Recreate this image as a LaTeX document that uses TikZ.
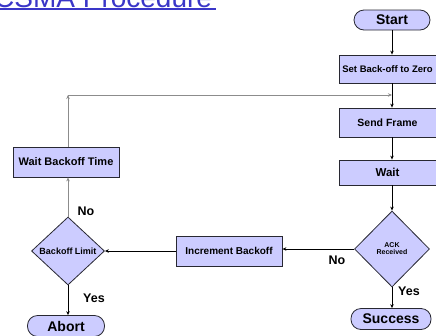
\documentclass[tikz,border=0pt]{standalone}
\usepackage{fontspec}
\setmainfont{Liberation Sans}
\usetikzlibrary{shapes.geometric,arrows.meta}
\definecolor{boxfill}{RGB}{204,204,255}
\definecolor{edge}{RGB}{40,40,50}
\definecolor{titleblue}{RGB}{58,54,200}
\definecolor{backline}{RGB}{140,140,140}
\newcommand{\fsz}[1]{\bfseries\fontsize{#1}{#1}\selectfont}
\begin{document}
\begin{tikzpicture}[x=1pt,y=-1pt,
  stepbox/.style={draw=edge, line width=0.8pt, fill=boxfill, rectangle, inner sep=0pt},
  term/.style={stepbox, rounded corners=10pt},
  decision/.style={stepbox, diamond, align=center},
  lbl/.style={font=\fsz{12.5}},
  flow/.style={draw=black, line width=0.8pt, -{Stealth[length=4pt,width=3.5pt]}},
  back/.style={draw=backline, line width=0.8pt, -{Stealth[length=4pt,width=3.5pt]}}]
\path[use as bounding box] (0,0) rectangle (436,335);
\clip (0,0) rectangle (436,335);

% heading, mostly above the visible area
\node[anchor=base west, inner sep=0pt, text=titleblue, font=\fontsize{28}{30}\selectfont] (title) at (-6,7) {CSMA Procedure};
\fill[titleblue] (0,8) rectangle (216,10);

% main column
\node[term, minimum width=76pt, minimum height=20pt, font=\fsz{14}] (start) at (392,20) {Start};
\node[stepbox, minimum width=97pt, minimum height=28pt, font=\fsz{9.5}] (setz) at (387.5,69) {Set Back-off to Zero};
\node[stepbox, minimum width=97pt, minimum height=29pt, font=\fsz{10.5}] (send) at (387.5,122.5) {Send Frame};
\node[stepbox, minimum width=97pt, minimum height=25pt, font=\fsz{11.5}] (wait) at (387.5,172.5) {Wait};
\node[decision, minimum width=75pt, minimum height=76pt, font=\fsz{7}] (ack) at (392,249) {ACK\\Received};
\node[term, minimum width=80pt, minimum height=21pt, font=\fsz{14}] (succ) at (391,319) {Success};

% retry path
\node[stepbox, minimum width=106pt, minimum height=30pt, font=\fsz{10}] (inc) at (229,251) {Increment Backoff};
\node[decision, minimum width=73pt, minimum height=68pt, font=\fsz{9}] (blim) at (68,251) {Backoff Limit};
\node[stepbox, minimum width=106pt, minimum height=30pt, font=\fsz{11}] (wbt) at (66,162) {Wait Backoff Time};
\node[term, minimum width=77pt, minimum height=21pt, font=\fsz{14}] (abort) at (66,326) {Abort};
\coordinate (loop) at (68,95);

% connectors
\draw[flow] (start.south) -- (start.south |- setz.north);
\draw[flow] (start.south |- setz.south) -- (start.south |- send.north);
\draw[flow] (start.south |- send.south) -- (start.south |- wait.north);
\draw[flow] (start.south |- wait.south) -- (ack.north);
\draw[flow] (ack.south) -- (ack.south |- succ.north);
\draw[flow] (ack.west) -- (ack.west -| inc.east);
\draw[flow] (inc.west) -- (blim.east);
\draw[flow] (blim.south) -- (blim.south |- abort.north);
\draw[back] (blim.north) -- (blim.north |- wbt.south);
\draw[back] (wbt.north -| loop) -- (loop);
\draw[back] (loop) -- (loop -| start.south);

% branch labels
\node[lbl] (no1) at (86,211) {No};
\node[lbl] (yes1) at (94,298) {Yes};
\node[lbl] (no2) at (337,260) {No};
\node[lbl] (yes2) at (409,291) {Yes};
\end{tikzpicture}
\end{document}
